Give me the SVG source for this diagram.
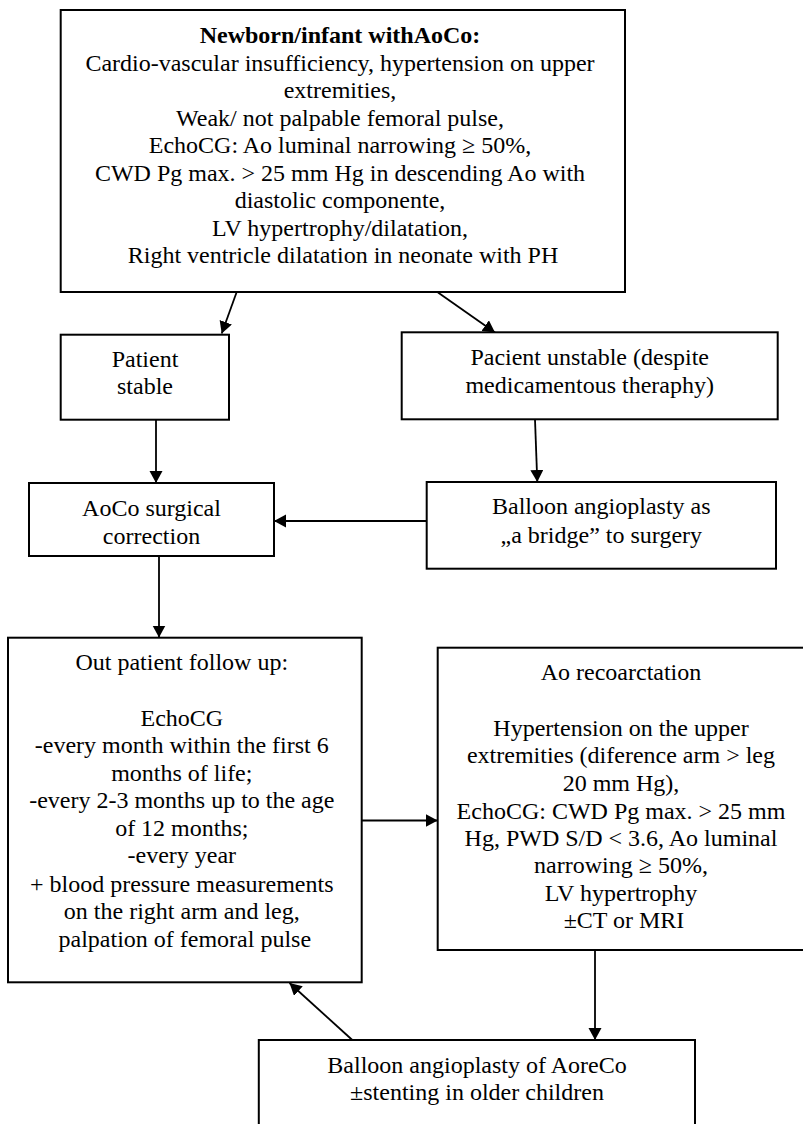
<svg xmlns="http://www.w3.org/2000/svg" width="803" height="1124" viewBox="0 0 803 1124">
<style>
.box{fill:#fff;stroke:#000;stroke-width:2}
.t{font-family:"Liberation Serif","Times New Roman",serif;font-size:24px;fill:#000;text-anchor:middle}
.b{font-weight:bold}
.c{fill:none;stroke:#000;stroke-width:1.8;marker-end:url(#ah)}
</style>
<defs>
<marker id="ah" markerUnits="userSpaceOnUse" markerWidth="14" markerHeight="14" refX="12" refY="6.5" orient="auto">
<path d="M0,0 L12,6.5 L0,13 z" fill="#000"/>
</marker>
</defs>
<rect width="803" height="1124" fill="#fff"/>
<g id="connectors">
<line class="c" x1="236.7" y1="292" x2="221.7" y2="333.5"/>
<line class="c" x1="438" y1="292.5" x2="495" y2="332.5"/>
<line class="c" x1="156" y1="420" x2="156" y2="483"/>
<line class="c" x1="535" y1="419.5" x2="537.3" y2="482"/>
<line class="c" x1="426.7" y1="521" x2="274" y2="521"/>
<line class="c" x1="159" y1="556.5" x2="159" y2="637.5"/>
<line class="c" x1="361.7" y1="820.5" x2="437.7" y2="820.5"/>
<line class="c" x1="595" y1="951" x2="595" y2="1040"/>
<line class="c" x1="352.3" y1="1040" x2="289.5" y2="983"/>
</g>
<g id="n-newborn">
<rect class="box" x="60.7" y="10" width="564.3" height="282"/>
<text class="t" x="343" y="43.3"><tspan class="b">Newborn/infant withAoCo:</tspan>
<tspan x="343" y="70.7">Cardio-vascular insufficiency, hypertension on upper</tspan>
<tspan x="343" y="98.3">extremities,</tspan>
<tspan x="343" y="126">Weak/ not palpable femoral pulse,</tspan>
<tspan x="343" y="153.3">EchoCG: Ao luminal narrowing ≥ 50%,</tspan>
<tspan x="343" y="181">CWD Pg max. &gt; 25 mm Hg in descending Ao with</tspan>
<tspan x="343" y="208.3">diastolic componente,</tspan>
<tspan x="343" y="236">LV hypertrophy/dilatation,</tspan>
<tspan x="343" y="263.3">Right ventricle dilatation in neonate with PH</tspan></text>
</g>
<g id="n-stable">
<rect class="box" x="60.7" y="334.7" width="168.3" height="85"/>
<text class="t" x="145" y="366.7">Patient<tspan x="145" y="394">stable</tspan></text>
</g>
<g id="n-unstable">
<rect class="box" x="401.7" y="332.3" width="376" height="87"/>
<text class="t" x="589.7" y="365">Pacient unstable (despite<tspan x="589.7" y="392.7">medicamentous theraphy)</tspan></text>
</g>
<g id="n-surgery">
<rect class="box" x="29" y="483" width="245" height="73"/>
<text class="t" x="151.5" y="516">AoCo surgical<tspan x="151.5" y="543.5">correction</tspan></text>
</g>
<g id="n-bridge">
<rect class="box" x="426.7" y="482" width="349.3" height="86.7"/>
<text class="t" x="601.3" y="514">Balloon angioplasty as<tspan x="601.3" y="542.7">„a bridge” to surgery</tspan></text>
</g>
<g id="n-followup">
<rect class="box" x="8" y="637.7" width="353.7" height="344.6"/>
<text class="t" x="184.8" y="670">Out patient follow up:
<tspan x="184.8" y="726">EchoCG</tspan>
<tspan x="184.8" y="753.3">-every month within the first 6</tspan>
<tspan x="184.8" y="780.7">months of life;</tspan>
<tspan x="184.8" y="808.3">-every 2-3 months up to the age</tspan>
<tspan x="184.8" y="836">of 12 months;</tspan>
<tspan x="184.8" y="863.3">-every year</tspan>
<tspan x="184.8" y="891.7">+ blood pressure measurements</tspan>
<tspan x="184.8" y="919.3">on the right arm and leg,</tspan>
<tspan x="184.8" y="946.7">palpation of femoral pulse</tspan></text>
</g>
<g id="n-recoarct">
<rect class="box" x="437.7" y="647.7" width="372" height="302.3"/>
<text class="t" x="624" y="680">Ao recoarctation
<tspan x="624" y="736">Hypertension on the upper</tspan>
<tspan x="624" y="763.3">extremities (diference arm &gt; leg</tspan>
<tspan x="624" y="791">20 mm Hg),</tspan>
<tspan x="624" y="819">EchoCG: CWD Pg max. &gt; 25 mm</tspan>
<tspan x="624" y="846">Hg, PWD S/D &lt; 3.6, Ao luminal</tspan>
<tspan x="624" y="873.3">narrowing ≥ 50%,</tspan>
<tspan x="624" y="901">LV hypertrophy</tspan>
<tspan x="624" y="928.3">±CT or MRI</tspan></text>
</g>
<g id="n-angioplasty">
<rect class="box" x="258.8" y="1040" width="436.2" height="100"/>
<text class="t" x="477" y="1073.3">Balloon angioplasty of AoreCo<tspan x="477" y="1100">±stenting in older children</tspan></text>
</g>
</svg>
